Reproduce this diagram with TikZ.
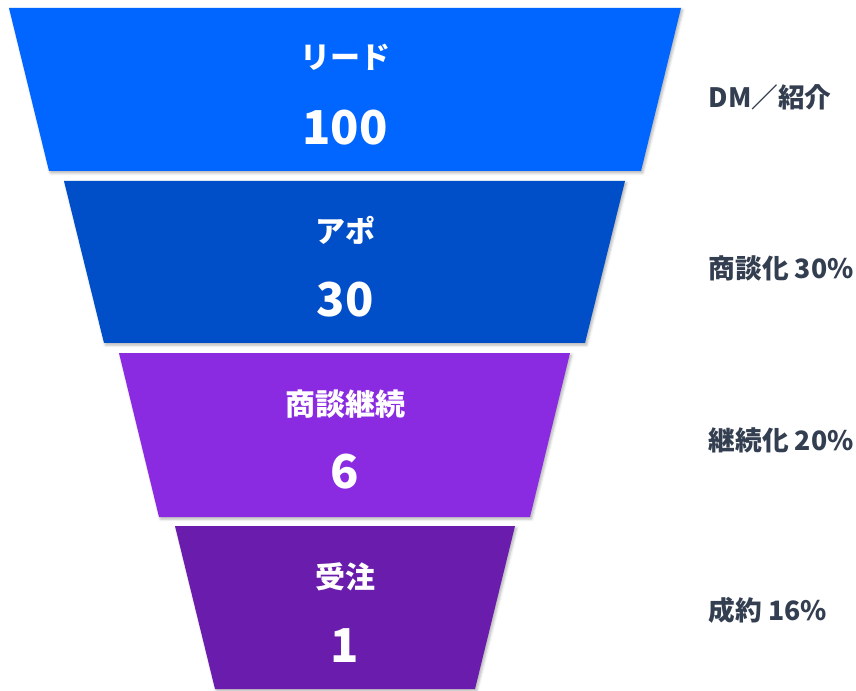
\documentclass[tikz,border=0pt]{standalone}
\usepackage{fontspec}
\setmainfont{Noto Sans CJK JP}
\usetikzlibrary{shadows.blur}
\definecolor{stageA}{HTML}{0066FF}
\definecolor{stageB}{HTML}{004EC8}
\definecolor{stageC}{HTML}{8A2BE2}
\definecolor{stageD}{HTML}{6A1CAC}
\definecolor{ratetext}{HTML}{333E50}
\tikzset{
  stage/.style={blur shadow={shadow xshift=1.2pt, shadow yshift=-1.5pt, shadow blur radius=2pt, shadow opacity=30}},
  stagename/.style={text=white, font=\bfseries\fontsize{22.5}{26}\selectfont},
  stagecount/.style={text=white, font=\bfseries\fontsize{35}{40}\selectfont},
  rate/.style={text=ratetext, anchor=west, font=\bfseries\fontsize{20}{24}\selectfont}
}
\begin{document}
\begin{tikzpicture}[x=0.75pt, y=-0.75pt]
        \useasboundingbox (0,0) rectangle (856,691);
        % Funnel
        \fill[stage, stageA] (9,8) -- (681,8) -- (641,171) -- (49,171) -- cycle;
        \fill[stage, stageB] (64,181) -- (625,181) -- (585,343) -- (104,343) -- cycle;
        \fill[stage, stageC] (119,353) -- (570,353) -- (530,517) -- (159,517) -- cycle;
        \fill[stage, stageD] (175,526) -- (515,526) -- (475,689) -- (215,689) -- cycle;

        % Nodes
        \node[stagename] (lead) at (345,57) {リード};
        \node[stagecount] (leadn) at (345,128) {100};
        \node[stagename] (appo) at (345,230) {アポ};
        \node[stagecount] (appon) at (345,300) {30};
        \node[stagename] (deal) at (345,404) {商談継続};
        \node[stagecount] (dealn) at (345,472) {6};
        \node[stagename] (order) at (345,577) {受注};
        \node[stagecount] (ordern) at (345,646) {1};

        % Rates
        \node[rate] (src) at (704,97) {DM／紹介};
        \node[rate] (rateB) at (704,268) {商談化 30\%};
        \node[rate] (rateC) at (704,440) {継続化 20\%};
        \node[rate] (rateD) at (704,610) {成約 16\%};
    \end{tikzpicture}
\end{document}
